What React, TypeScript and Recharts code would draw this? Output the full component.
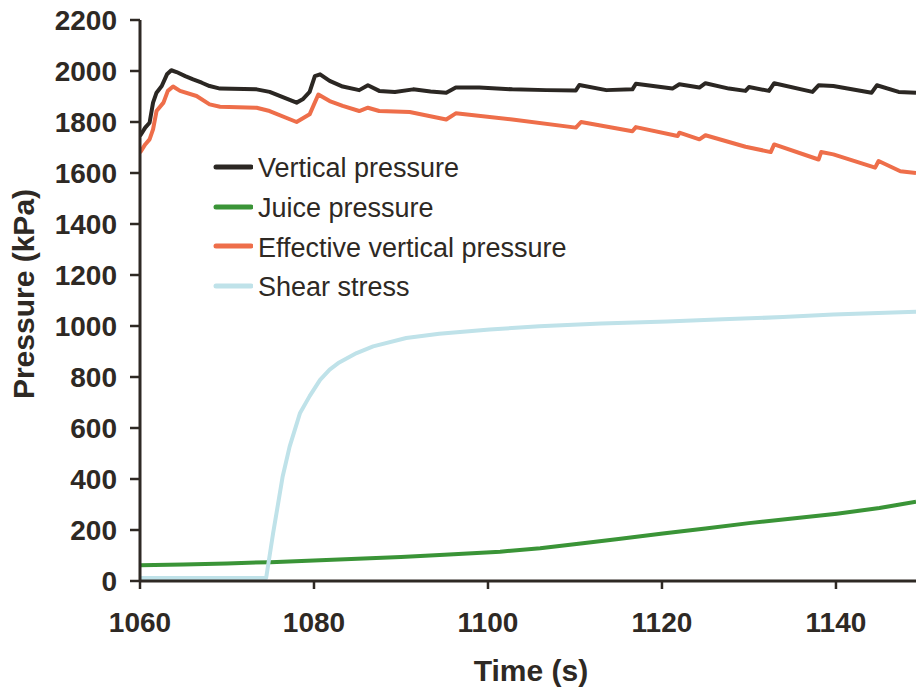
import { LineChart, Line, XAxis, YAxis, Label, Legend } from 'recharts'

// readings taken off the plot, time in s, pressure in kPa
const verticalTime = [
  1060.0, 1060.6, 1061.1, 1061.5, 1061.9, 1062.5, 1063.1, 1063.6, 1064.2, 1065.2, 1066.1, 1067.1, 1068.0,
  1069.2, 1073.4, 1074.9, 1078.0, 1078.7, 1079.5, 1080.1, 1080.7, 1081.8, 1083.3, 1085.2, 1086.2, 1087.5,
  1089.3, 1091.4, 1093.4, 1095.2, 1096.3, 1099.0, 1102.8, 1106.7, 1110.1, 1110.5, 1113.6, 1116.6, 1117.0,
  1121.2, 1122.0, 1124.3, 1125.0, 1127.7, 1129.6, 1130.0, 1132.3, 1132.9, 1137.3, 1138.0, 1139.7, 1144.1,
  1144.7, 1147.2, 1149.2,
]
const verticalKpa = [
  1745, 1778, 1797, 1876, 1915, 1941, 1987, 2003, 1996, 1980, 1967, 1954, 1941,
  1931, 1928, 1918, 1876, 1889, 1918, 1980, 1987, 1961, 1939, 1925, 1944, 1922,
  1918, 1928, 1920, 1915, 1935, 1935, 1928, 1925, 1924, 1945, 1925, 1928, 1950,
  1931, 1948, 1935, 1952, 1931, 1922, 1937, 1922, 1952, 1918, 1944, 1941, 1915,
  1944, 1918, 1915,
]

const juiceTime = [1060, 1065, 1070, 1075, 1080, 1085, 1090, 1095, 1101.4, 1106, 1110.9, 1115, 1120.1, 1125, 1130, 1135, 1140.1, 1145, 1149.2]
const juiceKpa = [62, 65, 69, 74, 80, 87, 94, 103, 115, 128, 148, 165, 186, 206, 227, 245, 264, 286, 311]

const effectiveTime = [
  1060.0, 1060.6, 1061.1, 1061.5, 1061.9, 1062.7, 1063.2, 1063.8, 1064.6, 1066.5, 1068.0, 1069.2, 1073.4,
  1074.9, 1078.0, 1079.5, 1080.5, 1081.8, 1083.3, 1085.2, 1086.2, 1087.5, 1091.0, 1095.2, 1096.3, 1102.8,
  1110.1, 1110.7, 1116.6, 1117.0, 1121.8, 1122.0, 1124.3, 1125.0, 1129.6, 1132.5, 1132.9, 1138.0, 1138.3,
  1139.7, 1144.5, 1144.9, 1147.4, 1149.2,
]
const effectiveKpa = [
  1680, 1712, 1732, 1771, 1843, 1876, 1922, 1939, 1922, 1902, 1869, 1860, 1856,
  1843, 1800, 1830, 1908, 1882, 1863, 1843, 1856, 1843, 1839, 1810, 1834, 1810,
  1778, 1800, 1764, 1780, 1745, 1758, 1732, 1748, 1703, 1682, 1712, 1653, 1682,
  1673, 1621, 1647, 1607, 1600,
]

const shearTime = [
  1060, 1074.5, 1075.3, 1076.4, 1077.2, 1078.4, 1079.5, 1080.7, 1081.8, 1082.9, 1084.9, 1086.8, 1090.6,
  1094.4, 1100.2, 1105.9, 1113, 1120.6, 1127, 1133.9, 1139.7, 1144, 1149.2,
]
const shearKpa = [
  12, 12, 187, 410, 527, 659, 725, 789, 829, 857, 894, 920, 953,
  970, 986, 999, 1010, 1018, 1026, 1035, 1045, 1050, 1056,
]

const timeTicks = [1060, 1080, 1100, 1120, 1140]
const pressureTicks = [0, 200, 400, 600, 800, 1000, 1200, 1400, 1600, 1800, 2000, 2200]

const seriesNames = ['Vertical pressure', 'Juice pressure', 'Effective vertical pressure', 'Shear stress']
const seriesColors = ['#2b2723', '#3a9437', '#ee6e4a', '#bfe2e9']

const zip = (ts: number[], vs: number[]) => ts.map((t, i) => ({ t, v: vs[i] }))

const ink = '#2e2924'
const font = '"Liberation Sans", Arial, sans-serif'

function TimeTitle() {
  return (
    <text x={531} y={681} textAnchor="middle" fontFamily={font} fontWeight="bold" fontSize={30} fill={ink}>
      Time (s)
    </text>
  )
}

function PressureTitle() {
  return (
    <text
      x={34}
      y={294}
      transform="rotate(-90, 34, 294)"
      textAnchor="middle"
      fontFamily={font}
      fontWeight="bold"
      fontSize={30}
      fill={ink}
    >
      Pressure (kPa)
    </text>
  )
}

function LegendBox() {
  return (
    <div style={{ fontFamily: font, fontSize: 27, color: ink }}>
      {seriesNames.map((name, i) => (
        <div key={name} style={{ display: 'flex', alignItems: 'center', height: 39.8, whiteSpace: 'nowrap' }}>
          <svg width={40} height={8} style={{ display: 'block' }}>
            <line x1={3} y1={4} x2={38} y2={4} stroke={seriesColors[i]} strokeWidth={5} strokeLinecap="round" />
          </svg>
          <span style={{ marginLeft: 5, lineHeight: '40px', position: 'relative', top: 1 }}>{name}</span>
        </div>
      ))}
    </div>
  )
}

export default function App() {
  const series = [
    zip(verticalTime, verticalKpa),
    zip(juiceTime, juiceKpa),
    zip(effectiveTime, effectiveKpa),
    zip(shearTime, shearKpa),
  ]

  return (
    <div style={{ position: 'absolute', left: 0, top: 0 }}>
      <LineChart width={916} height={693} margin={{ top: 20, right: 0, bottom: 0, left: 0 }}>
        <XAxis
          dataKey="t"
          type="number"
          domain={[1060, 1149.2]}
          ticks={timeTicks}
          allowDataOverflow
          height={112}
          tickSize={8}
          tickMargin={23}
          axisLine={{ stroke: ink, strokeWidth: 3 }}
          tickLine={{ stroke: ink, strokeWidth: 2.5 }}
          tick={{ fill: ink, fontSize: 28, fontWeight: 'bold', fontFamily: font }}
        >
          <Label content={<TimeTitle />} />
        </XAxis>
        <YAxis
          type="number"
          domain={[0, 2200]}
          ticks={pressureTicks}
          width={140}
          tickSize={10}
          tickMargin={13}
          axisLine={{ stroke: ink, strokeWidth: 3 }}
          tickLine={{ stroke: ink, strokeWidth: 2.5 }}
          tick={{ fill: ink, fontSize: 28, fontWeight: 'bold', fontFamily: font }}
        >
          <Label content={<PressureTitle />} />
        </YAxis>
        <Legend
          layout="horizontal"
          verticalAlign="middle"
          align="center"
          content={<LegendBox />}
          wrapperStyle={{ left: 213, top: 147, width: 380, height: 160 }}
        />
        {series.map((data, i) => (
          <Line
            key={seriesNames[i]}
            data={data}
            dataKey="v"
            name={seriesNames[i]}
            type="linear"
            stroke={seriesColors[i]}
            strokeWidth={4}
            strokeLinejoin="round"
            dot={false}
            activeDot={false}
            isAnimationActive={false}
          />
        ))}
      </LineChart>
    </div>
  )
}
